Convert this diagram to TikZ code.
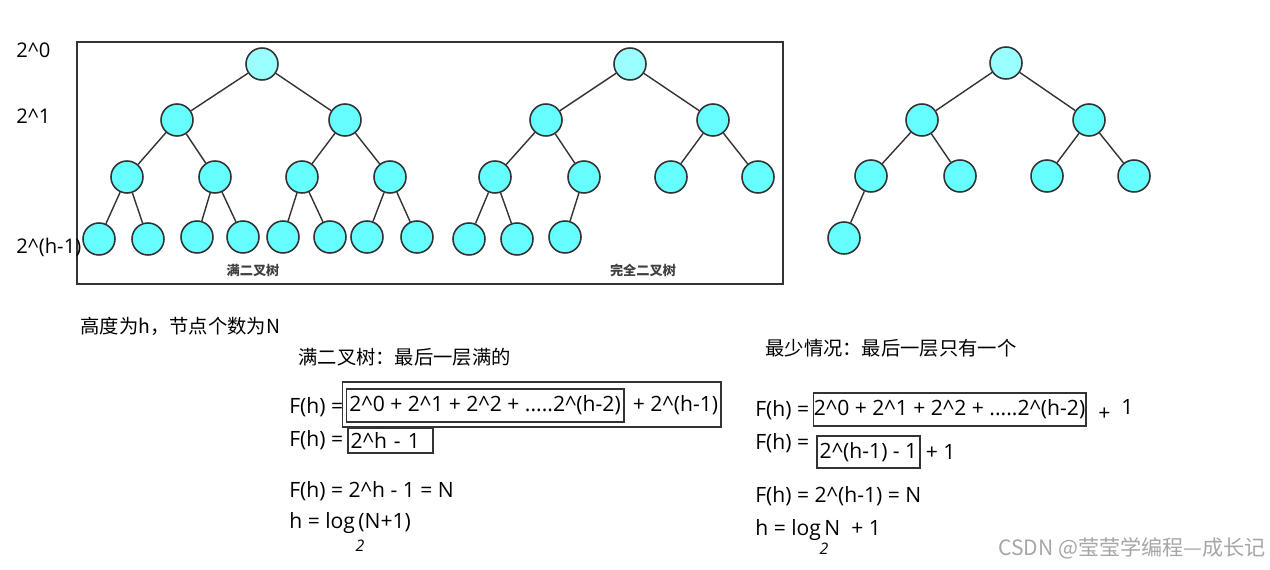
\documentclass[tikz,border=0pt]{standalone}
\usepackage{fontspec}
\setmainfont{Open Sans}
\newfontfamily\cjk{Noto Sans CJK SC}
\usepackage{tikz}
\usetikzlibrary{positioning}
\definecolor{nodecyan}{HTML}{66FFFF}
\definecolor{rootcyan}{HTML}{99FFFF}
\definecolor{linegray}{HTML}{333333}
\newcommand{\powc}{\textasciicircum}
\tikzset{
  tnode/.style={circle,draw=linegray,fill=nodecyan,minimum size=0.64cm,inner sep=0pt,line width=0.9pt},
  troot/.style={tnode,fill=rootcyan},
  tedge/.style={draw=linegray,line width=0.8pt},
  lvl/.style={anchor=west,inner sep=0pt,font=\fontsize{11.5}{13}\selectfont},
  txt/.style={anchor=west,inner sep=0pt,font=\fontsize{12}{14}\selectfont},
  cjktxt/.style={anchor=west,inner sep=0pt,font=\fontsize{11}{13}\selectfont\cjk},
  caption/.style={inner sep=0pt,font=\fontsize{7.5}{9}\selectfont\cjk\bfseries,text=black!75},
  sumbox/.style={draw=black!80,line width=0.6pt,inner sep=0pt,font=\fontsize{12}{14}\selectfont},
  subtwo/.style={inner sep=0pt,font=\fontsize{9}{10}\selectfont\itshape}
}

\begin{document}
\begin{tikzpicture}[x=0.02cm,y=-0.02cm]
    \useasboundingbox (0,0) rectangle (1270,570);
    % frame round the first two trees
    \node[draw=linegray,line width=1pt,minimum width=14.12cm,minimum height=4.84cm,inner sep=0pt] (frame) at (430,163) {};
    \node[lvl] (lv0) at (16,50) {2\powc 0};
    \node[lvl] (lv1) at (16,116) {2\powc 1};
    \node[lvl] (lvh) at (16,247) {2\powc (h-1)};

    % full tree
    \node[troot] (f0) at (262,64) {};
    \node[tnode] (f1a) at (177,120) {};
    \node[tnode] (f1b) at (345,120) {};
    \node[tnode] (f2a) at (127,177) {};
    \node[tnode] (f2b) at (215,177) {};
    \node[tnode] (f2c) at (302,177) {};
    \node[tnode] (f2d) at (390,177) {};
    \node[tnode] (f3a) at (99,239) {};
    \node[tnode] (f3b) at (148,239) {};
    \node[tnode] (f3c) at (197,237) {};
    \node[tnode] (f3d) at (243,237) {};
    \node[tnode] (f3e) at (283,237) {};
    \node[tnode] (f3f) at (330,237) {};
    \node[tnode] (f3g) at (367,237) {};
    \node[tnode] (f3h) at (417,237) {};
    \draw[tedge] (f0) -- (f1a) (f0) -- (f1b);
    \draw[tedge] (f1a) -- (f2a) (f1a) -- (f2b) (f1b) -- (f2c) (f1b) -- (f2d);
    \draw[tedge] (f2a) -- (f3a) (f2a) -- (f3b) (f2b) -- (f3c) (f2b) -- (f3d);
    \draw[tedge] (f2c) -- (f3e) (f2c) -- (f3f) (f2d) -- (f3g) (f2d) -- (f3h);
    \node[caption] (fcap) at (253,270) {满二叉树};

    % complete tree
    \node[troot] (c0) at (630,64) {};
    \node[tnode] (c1a) at (546,120) {};
    \node[tnode] (c1b) at (713,120) {};
    \node[tnode] (c2a) at (495,177) {};
    \node[tnode] (c2b) at (584,177) {};
    \node[tnode] (c2c) at (671,177) {};
    \node[tnode] (c2d) at (758,177) {};
    \node[tnode] (c3a) at (469,239) {};
    \node[tnode] (c3b) at (517,239) {};
    \node[tnode] (c3c) at (565,237) {};
    \draw[tedge] (c0) -- (c1a) (c0) -- (c1b);
    \draw[tedge] (c1a) -- (c2a) (c1a) -- (c2b) (c1b) -- (c2c) (c1b) -- (c2d);
    \draw[tedge] (c2a) -- (c3a) (c2a) -- (c3b) (c2b) -- (c3c);
    \node[caption] (ccap) at (643,270) {完全二叉树};

    % least case tree
    \node[troot] (m0) at (1006,63) {};
    \node[tnode] (m1a) at (922,120) {};
    \node[tnode] (m1b) at (1089,120) {};
    \node[tnode] (m2a) at (871,176) {};
    \node[tnode] (m2b) at (960,176) {};
    \node[tnode] (m2c) at (1047,176) {};
    \node[tnode] (m2d) at (1134,176) {};
    \node[tnode] (m3a) at (844,238) {};
    \draw[tedge] (m0) -- (m1a) (m0) -- (m1b);
    \draw[tedge] (m1a) -- (m2a) (m1a) -- (m2b) (m1b) -- (m2c) (m1b) -- (m2d);
    \draw[tedge] (m2a) -- (m3a);

    % full case formulas
    \node[cjktxt] (given) at (80,326) {高度为h，节点个数为N};
    \node[cjktxt] (fulltitle) at (298,357) {满二叉树：最后一层满的};
    \node[sumbox,minimum width=7.58cm,minimum height=0.9cm] (fullouter) at (531.5,404.5) {};
    \node[sumbox,minimum width=5.56cm,minimum height=0.66cm] (fullsum) at (485,405.5) {2\powc 0 + 2\powc 1 + 2\powc 2 + .....2\powc (h-2)};
    \node[txt] (fulllhs) at (289,407) {F(h) =};
    \node[txt,right=0.16cm of fullsum] (fulllast) {+ 2\powc (h-1)};
    \node[txt] (fulllhs2) at (289,440) {F(h) =};
    \node[sumbox,minimum width=1.7cm,minimum height=0.5cm,text width=1.6cm] (fullres) at (390.5,440.5) {2\powc h - 1};
    \node[txt] (fulleq) at (289,491) {F(h) = 2\powc h - 1 = N};
    \node[txt] (fulllog) at (289,523) {h = log\hspace{2pt}(N+1)};
    \node[subtwo] (fullbase) at (360,546) {2};

    % least case formulas
    \node[cjktxt] (leasttitle) at (765,348) {最少情况：最后一层只有一个};
    \node[txt] (leastlhs) at (755,410) {F(h) =};
    \node[sumbox,minimum width=5.46cm,minimum height=0.66cm] (leastsum) at (949.5,409.5) {2\powc 0 + 2\powc 1 + 2\powc 2 + .....2\powc (h-2)};
    \node[txt] (leastlast) at (1098,410) {+\ \ \raisebox{3pt}{1}};
    \node[txt] (leastlhs2) at (755,443) {F(h) =};
    \node[sumbox,minimum width=2.06cm,minimum height=0.64cm] (leastres) at (868.5,452) {2\powc (h-1) - 1};
    \node[txt,right=0.1cm of leastres] (leastplus) {+ 1};
    \node[txt] (leasteq) at (755,496) {F(h) = 2\powc (h-1) = N};
    \node[txt] (leastlog) at (755,530) {h = log\hspace{2pt}N\ \ + 1};
    \node[subtwo] (leastbase) at (824,549) {2};

    \node[anchor=east,inner sep=0pt,font=\fontsize{12}{14}\selectfont\cjk,text=black!35] (mark) at (1266,548) {CSDN @莹莹学编程—成长记};
\end{tikzpicture}
\end{document}
